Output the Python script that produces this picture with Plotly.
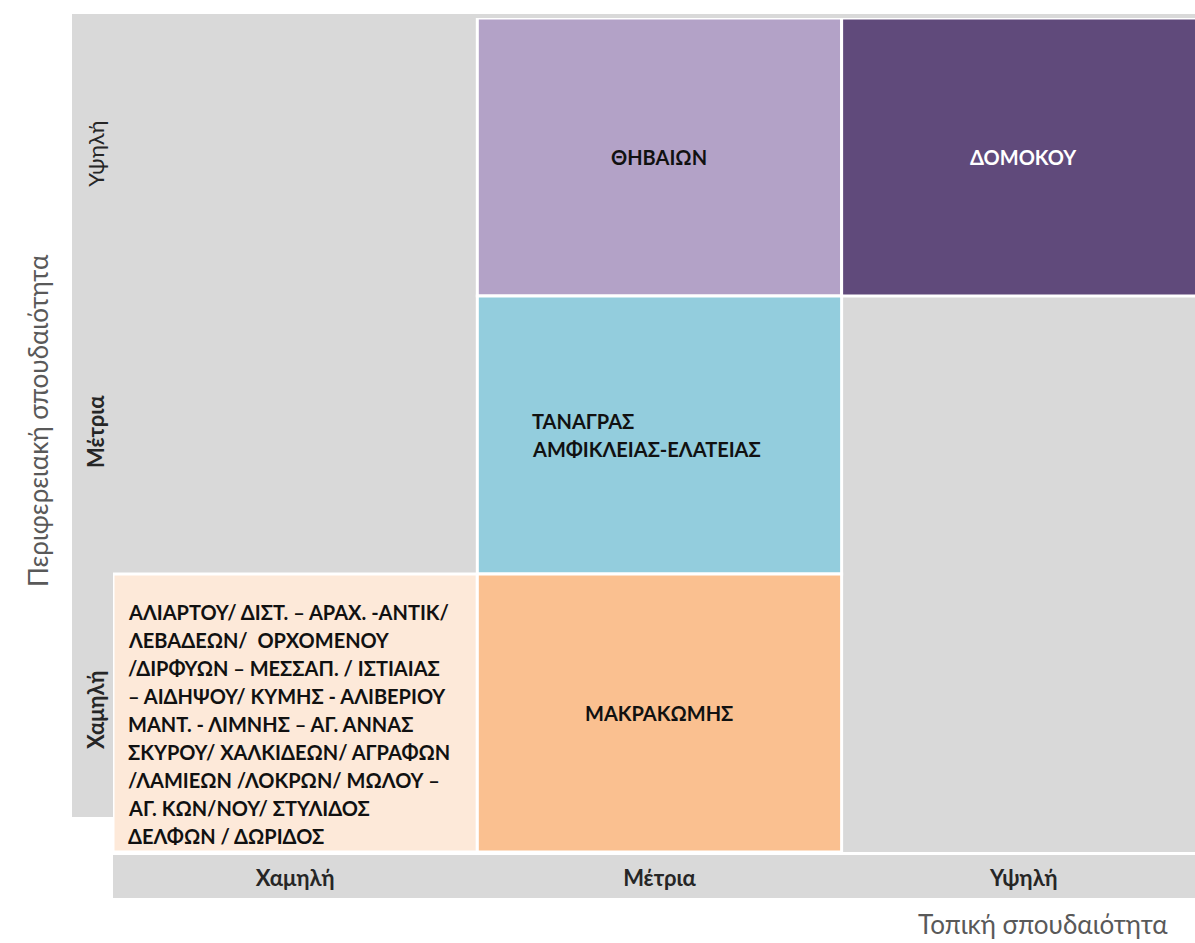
import plotly.graph_objects as go

# ---- data ----
levels = ["Χαμηλή", "Μέτρια", "Υψηλή"]
x_axis_title = "Τοπική σπουδαιότητα"
y_axis_title = "Περιφερειακή σπουδαιότητα"

cell_cols = [0, 1, 2, 1, 1]          # index into levels (Τοπική)
cell_rows = [0, 2, 2, 1, 0]          # index into levels (Περιφερειακή)
cell_colors = ["#fde9d9", "#b3a2c7", "#604a7b", "#93cddd", "#fac090"]
cell_text_colors = ["#111111", "#111111", "#ffffff", "#111111", "#111111"]
cell_align = ["left", "center", "center", "left", "center"]
cell_lines = [
    ["ΑΛΙΑΡΤΟΥ/ ΔΙΣΤ. – ΑΡΑΧ. -ΑΝΤΙΚ/",
     "ΛΕΒΑΔΕΩΝ/&nbsp; ΟΡΧΟΜΕΝΟΥ",
     "/ΔΙΡΦΥΩΝ – ΜΕΣΣΑΠ. / ΙΣΤΙΑΙΑΣ",
     "– ΑΙΔΗΨΟΥ/ ΚΥΜΗΣ - ΑΛΙΒΕΡΙΟΥ",
     "ΜΑΝΤ. - ΛΙΜΝΗΣ – ΑΓ. ΑΝΝΑΣ",
     "ΣΚΥΡΟΥ/ ΧΑΛΚΙΔΕΩΝ/ ΑΓΡΑΦΩΝ",
     "/ΛΑΜΙΕΩΝ /ΛΟΚΡΩΝ/ ΜΩΛΟΥ –",
     "ΑΓ. ΚΩΝ/ΝΟΥ/ ΣΤΥΛΙΔΟΣ",
     "ΔΕΛΦΩΝ / ΔΩΡΙΔΟΣ"],
    ["ΘΗΒΑΙΩΝ"],
    ["ΔΟΜΟΚΟΥ"],
    ["ΤΑΝΑΓΡΑΣ", "ΑΜΦΙΚΛΕΙΑΣ-ΕΛΑΤΕΙΑΣ"],
    ["ΜΑΚΡΑΚΩΜΗΣ"],
]

# ---- styling ----
W, H = 1195, 943
L, R, T, B = 113, 0, 18, 91
X_MAX = 2.97          # right-most column is slightly cut by the page edge
GRAY = "#d9d9d9"
FONT = "Lato"
TEXT_SIZE = 20
LINE_STEP = 0.101    # line spacing in data units (~28px)
LEFT_PAD = [0.035, 0, 0, 0.145, 0]
BLOCK_OFFSET = [-0.04, 0, 0, 0, 0]

pw = W - L - R
ph = H - T - B

def px_to_paper_x(px):
    return (px - L) / pw

def px_to_paper_y(py):
    return (H - B - py) / ph

fig = go.Figure()
fig.add_trace(go.Scatter(x=[None], y=[None], showlegend=False, hoverinfo="skip"))

shapes = []
# extra gray strips outside the plot area (left label band, bottom label band, top strip)
shapes.append(dict(type="rect", xref="paper", yref="paper", layer="below",
                   x0=px_to_paper_x(72), x1=0, y0=px_to_paper_y(817), y1=px_to_paper_y(14),
                   fillcolor=GRAY, line=dict(width=0)))
shapes.append(dict(type="rect", xref="paper", yref="paper", layer="below",
                   x0=0, x1=1, y0=px_to_paper_y(898), y1=px_to_paper_y(855),
                   fillcolor=GRAY, line=dict(width=0)))
shapes.append(dict(type="rect", xref="paper", yref="paper", layer="below",
                   x0=px_to_paper_x(72), x1=1, y0=1, y1=px_to_paper_y(14),
                   fillcolor=GRAY, line=dict(width=0)))

annotations = []
for c, r, col, tcol, al, lines, pad, off in zip(cell_cols, cell_rows, cell_colors,
                                                 cell_text_colors, cell_align, cell_lines,
                                                 LEFT_PAD, BLOCK_OFFSET):
    shapes.append(dict(type="rect", xref="x", yref="y", x0=c, x1=c + 1, y0=r, y1=r + 1,
                       fillcolor=col, line=dict(color="white", width=3), layer="above"))
    n = len(lines)
    for i, line in enumerate(lines):
        yy = r + 0.5 + off + ((n - 1) / 2 - i) * LINE_STEP
        if al == "left":
            xx, xa = c + pad, "left"
        else:
            xx, xa = c + 0.5, "center"
        annotations.append(dict(x=xx, y=yy, xref="x", yref="y", text="<b>" + line + "</b>",
                                showarrow=False, xanchor=xa, yanchor="middle",
                                font=dict(family=FONT, size=TEXT_SIZE, color=tcol)))

annotations.append(dict(x=px_to_paper_x(38), y=px_to_paper_y(421), xref="paper", yref="paper",
                        text=y_axis_title, textangle=-90, showarrow=False,
                        xanchor="center", yanchor="middle",
                        font=dict(family=FONT, size=26, color="#595959")))
annotations.append(dict(x=px_to_paper_x(1043), y=px_to_paper_y(924), xref="paper", yref="paper",
                        text=x_axis_title, showarrow=False,
                        xanchor="center", yanchor="middle",
                        font=dict(family=FONT, size=26, color="#595959")))

tick_vals = [i + 0.5 for i in range(len(levels))]
x_ticktext = ["<b>" + t + "</b>" for t in levels]
y_ticktext = ["<b>" + levels[0] + "</b>", "<b>" + levels[1] + "</b>", levels[2]]

fig.update_layout(
    width=W, height=H,
    margin=dict(l=L, r=R, t=T, b=B, pad=0),
    paper_bgcolor="white", plot_bgcolor=GRAY,
    shapes=shapes, annotations=annotations, showlegend=False,
    xaxis=dict(range=[0, X_MAX], tickvals=tick_vals, ticktext=x_ticktext, showgrid=False,
               zeroline=False, showline=False, ticks="", ticklabelstandoff=11,
               tickfont=dict(family=FONT, size=22, color="#262626"), fixedrange=True),
    yaxis=dict(range=[0, 3], tickvals=tick_vals, ticktext=y_ticktext, showgrid=False,
               zeroline=False, showline=False, ticks="", tickangle=-90, ticklabelstandoff=4,
               tickfont=dict(family=FONT, size=22, color="#262626"), fixedrange=True),
)

fig.write_html("out.html", config={"displayModeBar": False},
               post_script="document.body.style.margin='0';document.body.style.overflow='hidden';")
